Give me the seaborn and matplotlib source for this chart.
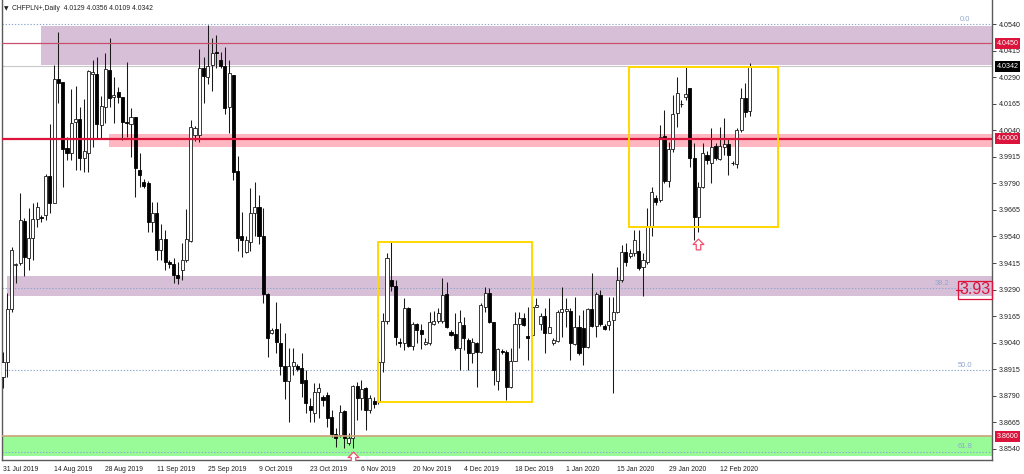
import numpy as np
import pandas as pd
import matplotlib
matplotlib.use("Agg")
import matplotlib.pyplot as plt
import matplotlib.transforms as mtransforms
from matplotlib.path import Path
from matplotlib.patches import Rectangle
import seaborn as sns

# ---------------- data (daily CHFPLN+, bars incl. Sunday sessions) ----------------
opens = [3.8880, 3.8949, 3.9197, 3.9406, 3.9415, 3.9614, 3.9437, 3.9532, 3.9622, 3.9632,
         3.9641, 3.9825, 3.9699, 4.0281, 4.0268, 3.9956, 3.9932, 4.0079, 4.0093, 3.9910,
         3.9935, 4.0303, 4.0305, 4.0065, 4.0151, 4.0324, 4.0196, 4.0221, 4.0198, 4.0080,
         4.0070, 4.0102, 3.9853, 3.9798, 3.9792, 3.9608, 3.9650, 3.9476, 3.9530, 3.9420,
         3.9410, 3.9360, 3.9382, 3.9429, 3.9520, 4.0018, 4.0018, 4.0332, 4.0292, 4.0347,
         4.0410, 4.0371, 4.0344, 4.0148, 4.0300, 3.9850, 3.9540, 3.9466, 3.9516, 3.9650,
         3.9680, 3.9542, 3.9269, 3.9087, 3.9105, 3.9040, 3.8932, 3.8861, 3.8932, 3.8930,
         3.8921, 3.8865, 3.8742, 3.8708, 3.8810, 3.8785, 3.8794, 3.8689, 3.8611, 3.8606,
         3.8719, 3.8570, 3.8590, 3.8836, 3.8779, 3.8826, 3.8724, 3.8766, 3.8763, 3.8951,
         3.9142, 3.9335, 3.9308, 3.9045, 3.9038, 3.9202, 3.9026, 3.9127, 3.9100, 3.9034,
         3.9038, 3.9127, 3.9142, 3.9140, 3.9268, 3.9092, 3.9080, 3.9014, 3.9124, 3.9053,
         3.8990, 3.9038, 3.8998, 3.9210, 3.9273, 3.9136, 3.8860, 3.8999, 3.8998, 3.8833,
         3.8954, 3.9127, 3.9158, 3.9070, 3.9076, 3.9210, 3.9128, 3.9166, 3.9087, 3.9038,
         3.9050, 3.9186, 3.9190, 3.9191, 3.9034, 3.9116, 3.9108, 3.9021, 3.9198, 3.9119,
         3.9265, 3.9119, 3.9124, 3.9147, 3.9186, 3.9335, 3.9469, 3.9448, 3.9464, 3.9470,
         3.9395, 3.9420, 3.9590, 3.9720, 3.9712, 4.0015, 3.9800, 3.9950, 4.0120, 4.0165,
         4.0198, 4.0237, 3.9908, 3.9633, 3.9774, 3.9924, 3.9885, 3.9968, 3.9905, 3.9962,
         3.9973, 3.9886, 3.9880, 4.0041, 4.0190, 4.0129]
highs = [3.8996, 3.9274, 3.9492, 3.9415, 3.9745, 3.9627, 3.9674, 3.9698, 3.9702, 3.9641,
         3.9834, 4.0070, 4.0347, 4.0502, 4.0268, 4.0008, 4.0234, 4.0248, 4.0149, 4.0187,
         4.0324, 4.0371, 4.0386, 4.0201, 4.0404, 4.0474, 4.0291, 4.0245, 4.0198, 4.0363,
         4.0145, 4.0104, 3.9933, 3.9810, 3.9800, 3.9700, 3.9700, 3.9600, 3.9570, 3.9430,
         3.9440, 3.9420, 3.9509, 3.9669, 4.0088, 4.0060, 4.0421, 4.0386, 4.0535, 4.0474,
         4.0488, 4.0410, 4.0433, 4.0371, 4.0300, 3.9919, 3.9657, 3.9540, 3.9767, 3.9798,
         3.9735, 3.9673, 3.9273, 3.9110, 3.9233, 3.9132, 3.9085, 3.9014, 3.9015, 3.8940,
         3.8992, 3.8912, 3.8780, 3.8851, 3.8851, 3.8795, 3.8810, 3.8724, 3.8639, 3.8747,
         3.8724, 3.8615, 3.8841, 3.8857, 3.8865, 3.8833, 3.8794, 3.8786, 3.8970, 3.9180,
         3.9460, 3.9516, 3.9335, 3.9060, 3.9251, 3.9210, 3.9138, 3.9133, 3.9127, 3.9060,
         3.9186, 3.9189, 3.9204, 3.9343, 3.9327, 3.9100, 3.9179, 3.9194, 3.9163, 3.9061,
         3.9061, 3.9045, 3.9226, 3.9304, 3.9296, 3.9139, 3.9014, 3.9010, 3.9006, 3.9014,
         3.9186, 3.9186, 3.9179, 3.9210, 3.9237, 3.9249, 3.9179, 3.9202, 3.9249, 3.9060,
         3.9194, 3.9304, 3.9249, 3.9202, 3.9257, 3.9171, 3.9194, 3.9205, 3.9367, 3.9280,
         3.9288, 3.9130, 3.9257, 3.9257, 3.9398, 3.9500, 3.9510, 3.9480, 3.9570, 3.9570,
         3.9460, 3.9674, 3.9775, 3.9735, 4.0065, 4.0135, 3.9986, 4.0206, 4.0292, 4.0180,
         4.0339, 4.0237, 3.9979, 3.9798, 3.9979, 3.9940, 4.0052, 3.9980, 4.0057, 4.0096,
         4.0002, 3.9895, 4.0049, 4.0237, 4.0261, 4.0356]
lows = [3.8827, 3.8880, 3.9186, 3.9321, 3.9406, 3.9354, 3.9382, 3.9429, 3.9585, 3.9610,
        3.9618, 3.9651, 3.9698, 4.0168, 3.9774, 3.9900, 3.9900, 3.9853, 3.9853, 3.9845,
        3.9845, 3.9960, 4.0004, 4.0004, 4.0074, 4.0149, 4.0074, 4.0168, 3.9994, 4.0010,
        3.9916, 3.9727, 3.9774, 3.9770, 3.9560, 3.9560, 3.9430, 3.9430, 3.9380, 3.9390,
        3.9320, 3.9318, 3.9335, 3.9420, 3.9515, 3.9990, 3.9986, 4.0170, 4.0260, 4.0226,
        4.0333, 4.0332, 4.0115, 4.0029, 3.9806, 3.9470, 3.9445, 3.9460, 3.9470, 3.9540,
        3.9505, 3.9226, 3.8972, 3.9080, 3.8993, 3.8888, 3.8774, 3.8669, 3.8888, 3.8905,
        3.8786, 3.8708, 3.8669, 3.8669, 3.8686, 3.8740, 3.8645, 3.8598, 3.8551, 3.8598,
        3.8545, 3.8559, 3.8543, 3.8676, 3.8724, 3.8629, 3.8708, 3.8732, 3.8750, 3.8904,
        3.9130, 3.9285, 3.9030, 3.9020, 3.9006, 3.9020, 3.9006, 3.9039, 3.9010, 3.9030,
        3.9030, 3.9124, 3.9132, 3.9132, 3.9108, 3.9070, 3.9006, 3.8912, 3.9006, 3.8912,
        3.8943, 3.8830, 3.8990, 3.9186, 3.9132, 3.8841, 3.8818, 3.8985, 3.8771, 3.8826,
        3.8954, 3.9014, 3.9120, 3.8959, 3.9070, 3.9210, 3.9100, 3.8993, 3.9084, 3.9030,
        3.9045, 3.9068, 3.9116, 3.8959, 3.9030, 3.8982, 3.8936, 3.9015, 3.9116, 3.9068,
        3.9119, 3.9100, 3.9100, 3.8802, 3.9179, 3.9327, 3.9400, 3.9440, 3.9450, 3.9382,
        3.9260, 3.9410, 3.9540, 3.9690, 3.9704, 3.9790, 3.9774, 3.9939, 4.0057, 4.0150,
        4.0180, 3.9869, 3.9524, 3.9563, 3.9767, 3.9880, 3.9790, 3.9900, 3.9900, 3.9924,
        3.9829, 3.9875, 3.9861, 4.0033, 4.0104, 4.0109]
closes = [3.8949, 3.9197, 3.9476, 3.9410, 3.9618, 3.9445, 3.9532, 3.9622, 3.9679, 3.9629,
          3.9825, 3.9699, 4.0281, 4.0262, 3.9951, 3.9933, 4.0076, 4.0093, 3.9910, 3.9940,
          4.0319, 4.0316, 4.0070, 4.0154, 4.0328, 4.0192, 4.0206, 4.0198, 4.0080, 4.0073,
          4.0102, 3.9862, 3.9829, 3.9779, 3.9608, 3.9650, 3.9476, 3.9530, 3.9420, 3.9410,
          3.9360, 3.9345, 3.9429, 3.9527, 4.0057, 4.0050, 4.0332, 4.0296, 4.0344, 4.0402,
          4.0402, 4.0344, 4.0143, 4.0308, 3.9845, 3.9532, 3.9524, 3.9524, 3.9652, 3.9677,
          3.9542, 3.9269, 3.9061, 3.9100, 3.9042, 3.8931, 3.8861, 3.8931, 3.8948, 3.8915,
          3.8850, 3.8756, 3.8724, 3.8810, 3.8827, 3.8770, 3.8686, 3.8611, 3.8590, 3.8716,
          3.8590, 3.8590, 3.8836, 3.8779, 3.8821, 3.8724, 3.8779, 3.8752, 3.8951, 3.9142,
          3.9440, 3.9308, 3.9068, 3.9038, 3.9202, 3.9026, 3.9127, 3.9100, 3.9080, 3.9042,
          3.9136, 3.9142, 3.9179, 3.9265, 3.9116, 3.9076, 3.9014, 3.9139, 3.9061, 3.8990,
          3.9045, 3.8995, 3.9218, 3.9273, 3.9136, 3.8912, 3.9011, 3.8996, 3.8833, 3.8954,
          3.9127, 3.9155, 3.9124, 3.9060, 3.9210, 3.9218, 3.9167, 3.9087, 3.9113, 3.9053,
          3.9186, 3.9197, 3.9199, 3.9038, 3.9116, 3.8990, 3.9021, 3.9198, 3.9119, 3.9268,
          3.9128, 3.9106, 3.9144, 3.9186, 3.9335, 3.9469, 3.9420, 3.9464, 3.9524, 3.9390,
          3.9430, 3.9590, 3.9751, 3.9704, 4.0010, 3.9800, 3.9950, 4.0115, 4.0214, 4.0162,
          4.0209, 3.9908, 3.9633, 3.9774, 3.9932, 3.9900, 3.9963, 3.9908, 3.9968, 3.9973,
          3.9924, 3.9884, 4.0041, 4.0190, 4.0127, 4.0342]

date_labels = ["31 Jul 2019", "14 Aug 2019", "28 Aug 2019", "11 Sep 2019", "25 Sep 2019",
               "9 Oct 2019", "23 Oct 2019", "6 Nov 2019", "20 Nov 2019", "4 Dec 2019",
               "18 Dec 2019", "1 Jan 2020", "15 Jan 2020", "29 Jan 2020", "12 Feb 2020"]
bars_per_label = 12
price_ticks = [4.0540, 4.0415, 4.0290, 4.0165, 4.0040, 3.9915, 3.9790, 3.9665, 3.9540,
               3.9415, 3.9290, 3.9165, 3.9040, 3.8915, 3.8790, 3.8665, 3.8540]

title_text = "CHFPLN+,Daily  4.0129 4.0356 4.0109 4.0342"

# levels / zones (price)
upper_zone = (4.0347, 4.0531)
upper_zone_start = 8.9
resistance_line = 4.0450
pivot_line = 4.0000
pivot_zone = (3.9962, 4.0022)
pivot_zone_start = 24.8
middle_zone = (3.9260, 3.9354)
middle_zone_start = 1.0
support_line = 3.8600
support_zone = (3.8507, 3.8600)
bid_price = 4.0342
fib_levels = [4.0540, 3.9296, 3.8912, 3.8528]
fib_names = ["0.0", "38.2", "50.0", "61.8"]
boxes = [(87.9, 123.9, 3.8761, 3.9514), (146.7, 181.6, 3.9585, 4.0338)]
arrow_bars = [82.0, 162.8]
arrow_tops = [3.8530, 3.9530]
price_label_value = 3.9290
price_label_text = "3.93"

# ---------------- style ----------------
sns.set_theme(style="white")
plt.rcParams['font.family'] = ['Liberation Sans', 'DejaVu Sans']

RED = '#DC143C'
THISTLE = '#D8BFD8'
FIBC = '#8EA6CC'

fig = plt.figure(figsize=(10.24, 4.74), dpi=100)
fig.patch.set_facecolor('white')
ax = fig.add_axes([2 / 1024, 14 / 474, 990 / 1024, 460 / 474])
ax.set_facecolor('white')

df = pd.DataFrame({"o": opens, "h": highs, "l": lows, "c": closes})
df["i"] = np.arange(len(df))
xmax = 231.8
ax.set_xlim(-0.23, xmax)
ax.set_ylim(3.8488, 4.0653)
blend = mtransforms.blended_transform_factory(ax.transAxes, ax.transData)

# zones (background)
ax.add_patch(Rectangle((upper_zone_start, upper_zone[0]), xmax - upper_zone_start,
                       upper_zone[1] - upper_zone[0], facecolor=THISTLE, edgecolor='none', zorder=0.5))
ax.add_patch(Rectangle((pivot_zone_start, pivot_zone[0]), xmax - pivot_zone_start,
                       pivot_zone[1] - pivot_zone[0], facecolor='#FFB6C1', edgecolor='none', zorder=0.5))
ax.add_patch(Rectangle((middle_zone_start, middle_zone[0]), xmax - middle_zone_start,
                       middle_zone[1] - middle_zone[0], facecolor=THISTLE, edgecolor='none', zorder=0.5))
ax.add_patch(Rectangle((-1, support_zone[0]), xmax + 2, support_zone[1] - support_zone[0],
                       facecolor='#98FB98', edgecolor='none', zorder=0.5))

# fib dotted lines
for lv in fib_levels:
    ax.axhline(lv, color=FIBC, lw=0.8, ls=(0, (1.2, 1.6)), zorder=1)
fib_text_x = [0.967, 0.942, 0.965, 0.965]
for lv, nm, fx in zip(fib_levels, fib_names, fib_text_x):
    ax.text(fx, lv + 0.0005, nm, transform=blend, color=FIBC, fontsize=5.4,
            ha='left', va='bottom', zorder=1.2)

ax.axhline(bid_price, color='#C8C8C8', lw=0.8, zorder=1)

# candles
bull = (df.c >= df.o).values
ax.vlines(df.i, df.l, df.h, color='#1a1a1a', lw=0.75, zorder=3)
body_bottom = np.minimum(df.o, df.c)
body_h = np.maximum((df.c - df.o).abs(), 0.0003)
ax.bar(df.i[bull], body_h[bull], bottom=body_bottom[bull], width=0.72, color='white',
       edgecolor='#1a1a1a', linewidth=0.6, zorder=3.5)
ax.bar(df.i[~bull], body_h[~bull], bottom=body_bottom[~bull], width=0.72, color='black',
       edgecolor='black', linewidth=0.6, zorder=3.5)

# horizontal lines (foreground)
ax.axhline(resistance_line, color='#C8506E', lw=0.9, zorder=4)
ax.axhline(pivot_line, color=RED, lw=1.6, zorder=4)
ax.axhline(support_line, color='#CDA27A', lw=1.2, zorder=4)

# yellow boxes
for x0, x1, y0, y1 in boxes:
    ax.add_patch(Rectangle((x0, y0), x1 - x0, y1 - y0, facecolor='none', edgecolor='#FFD700',
                           lw=1.4, zorder=4.5))

# up arrows
arrow = Path([(0, 1), (1, 0), (0.42, 0), (0.42, -1), (-0.42, -1), (-0.42, 0), (-1, 0), (0, 1)],
             [Path.MOVETO] + [Path.LINETO] * 6 + [Path.CLOSEPOLY])
ax.scatter(arrow_bars, [t - 0.0027 for t in arrow_tops], marker=arrow, s=60,
           facecolors='white', edgecolors='#F0506E', linewidths=0.9, zorder=5)

# price label object at the right border
ax.plot([1.0 - 36 / 990, 1.0 - 30 / 990], [price_label_value] * 2, transform=blend,
        color=RED, lw=0.9, zorder=5)
ax.text(1.0 - 1.5 / 990, price_label_value, price_label_text, transform=blend, color=RED,
        fontsize=11.5, ha='right', va='center', zorder=6,
        bbox=dict(boxstyle='square,pad=0.1', facecolor='none', edgecolor=RED, lw=0.9))

# axes spines / ticks
ax.spines['top'].set_visible(False)
for side in ['left', 'right', 'bottom']:
    ax.spines[side].set_color('#5a5a5a')
    ax.spines[side].set_linewidth(1.0)
ax.yaxis.tick_right()
ax.set_yticks(price_ticks)
ax.set_yticklabels([f"{p:.4f}" for p in price_ticks])
ax.tick_params(axis='y', direction='out', length=3, width=0.7, color='#444', pad=2,
               labelsize=5.1, labelcolor='#222')
ax.set_xticks(np.arange(len(date_labels)) * bars_per_label)
ax.set_xticklabels(date_labels, ha='left')
ax.tick_params(axis='x', direction='out', length=3, width=0.7, color='#444', pad=1,
               labelsize=4.9, labelcolor='#222')
ax.grid(False)

# highlighted price boxes on the right scale
for val, bg in [(resistance_line, RED), (bid_price, 'black'), (pivot_line, RED), (support_line, RED)]:
    ax.text(1.0 + 4.5 / 990, val, f"{val:.4f}", transform=blend, color='white', fontsize=5.1,
            ha='left', va='center', zorder=10, clip_on=False,
            bbox=dict(boxstyle='square,pad=0.28', facecolor=bg, edgecolor='none'))

# title
fig.text(4 / 1024, 1 - 9 / 474, "\u25BC", fontsize=4.2, color='#222', va='center', ha='left',
         family=['DejaVu Sans'])
fig.text(12 / 1024, 1 - 9 / 474, title_text, fontsize=4.9, color='#222', va='center', ha='left')

fig.savefig("out.png", dpi=100, facecolor='white')
